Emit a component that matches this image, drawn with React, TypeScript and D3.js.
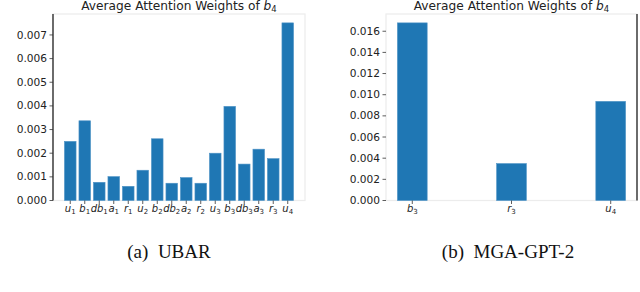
import React from "react";
import * as d3 from "d3";

// (a) UBAR
const ubarLabels = [
  ["u", "1"], ["b", "1"], ["db", "1"], ["a", "1"], ["r", "1"],
  ["u", "2"], ["b", "2"], ["db", "2"], ["a", "2"], ["r", "2"],
  ["u", "3"], ["b", "3"], ["db", "3"], ["a", "3"], ["r", "3"],
  ["u", "4"],
];
const ubarValues = [
  0.0025, 0.00337, 0.00077, 0.00101, 0.0006, 0.00128, 0.00261, 0.00073,
  0.00097, 0.00073, 0.002, 0.00398, 0.00154, 0.00217, 0.00177, 0.00751,
];
const ubarTicks = [0, 0.001, 0.002, 0.003, 0.004, 0.005, 0.006, 0.007];

// (b) MGA-GPT-2
const mgaLabels = [["b", "3"], ["r", "3"], ["u", "4"]];
const mgaValues = [0.01679, 0.00349, 0.00937];
const mgaTicks = [0, 0.002, 0.004, 0.006, 0.008, 0.01, 0.012, 0.014, 0.016];

const BLUE = "#1f77b4";
const FONT = "DejaVu Sans";

type PanelProps = {
  labels: string[][];
  values: number[];
  ticks: number[];
  barWidth: number;
  left: number;
  right: number;
  dark: "left" | "right";
  caption: string;
  captionX: number;
};

const Panel = ({ labels, values, ticks, barWidth, left, right, dark, caption, captionX }: PanelProps) => {
  const top = 14;
  const bottom = 200.5;
  const n = values.length;
  const span = n - 1 + barWidth;
  const x = d3
    .scaleLinear()
    .domain([-barWidth / 2 - 0.05 * span, n - 1 + barWidth / 2 + 0.05 * span])
    .range([left, right]);
  const y = d3
    .scaleLinear()
    .domain([0, (d3.max(values) as number) * 1.05])
    .range([bottom, top]);
  const bw = x(barWidth) - x(0);
  const mid = (left + right) / 2;

  return (
    <g>
      <text x={mid} y={9.5} textAnchor="middle" fontFamily={FONT} fontSize={12.2} fill="#222">
        Average Attention Weights of{" "}
        <tspan fontStyle="italic">b</tspan>
        <tspan fontSize={8.5} dy={2}>4</tspan>
      </text>
      <rect x={left} y={top} width={right - left} height={bottom - top} fill="none" stroke="#ececec" strokeWidth={1.2} />
      {values.map((v, i) => (
        <rect
          key={i}
          x={x(i) - bw / 2}
          y={y(v)}
          width={bw}
          height={bottom - y(v)}
          fill={BLUE}
          stroke="#4f93c6"
          strokeWidth={0.6}
        />
      ))}
      <line
        x1={dark === "left" ? left : right}
        x2={dark === "left" ? left : right}
        y1={top}
        y2={bottom}
        stroke="#111"
        strokeWidth={1.2}
      />
      {ticks.map((t) => (
        <g key={t}>
          <line x1={left - 3.5} x2={left} y1={y(t)} y2={y(t)} stroke="#333" strokeWidth={0.8} />
          <text
            x={left - 6}
            y={y(t)}
            dy="0.34em"
            textAnchor="end"
            fontFamily={FONT}
            fontSize={10.6}
            fill="#222"
          >
            {d3.format(".3f")(t)}
          </text>
        </g>
      ))}
      {labels.map(([s, sub], i) => (
        <g key={i}>
          <line x1={x(i)} x2={x(i)} y1={bottom} y2={bottom + 3.5} stroke="#333" strokeWidth={0.8} />
          <text x={x(i)} y={bottom + 11.5} textAnchor="middle" fontFamily={FONT} fontSize={10} fill="#222">
            <tspan fontStyle="italic">{s}</tspan>
            <tspan fontSize={7} dy={2}>{sub}</tspan>
          </text>
        </g>
      ))}
      <text
        x={captionX}
        y={258}
        textAnchor="middle"
        fontFamily="Liberation Serif"
        fontSize={19}
        fill="#111"
        style={{ whiteSpace: "pre" }}
      >
        {caption}
      </text>
    </g>
  );
};

export default function App() {
  return (
    <svg
      width={640}
      height={292}
      style={{ position: "absolute", left: 0, top: 0, background: "#fff" }}
    >
      <Panel
        labels={ubarLabels}
        values={ubarValues}
        ticks={ubarTicks}
        barWidth={0.8}
        left={53}
        right={305}
        dark="left"
        caption="(a)  UBAR"
        captionX={169}
      />
      <Panel
        labels={mgaLabels}
        values={mgaValues}
        ticks={mgaTicks}
        barWidth={0.3}
        left={386}
        right={637}
        dark="right"
        caption="(b)  MGA-GPT-2"
        captionX={508}
      />
    </svg>
  );
}
